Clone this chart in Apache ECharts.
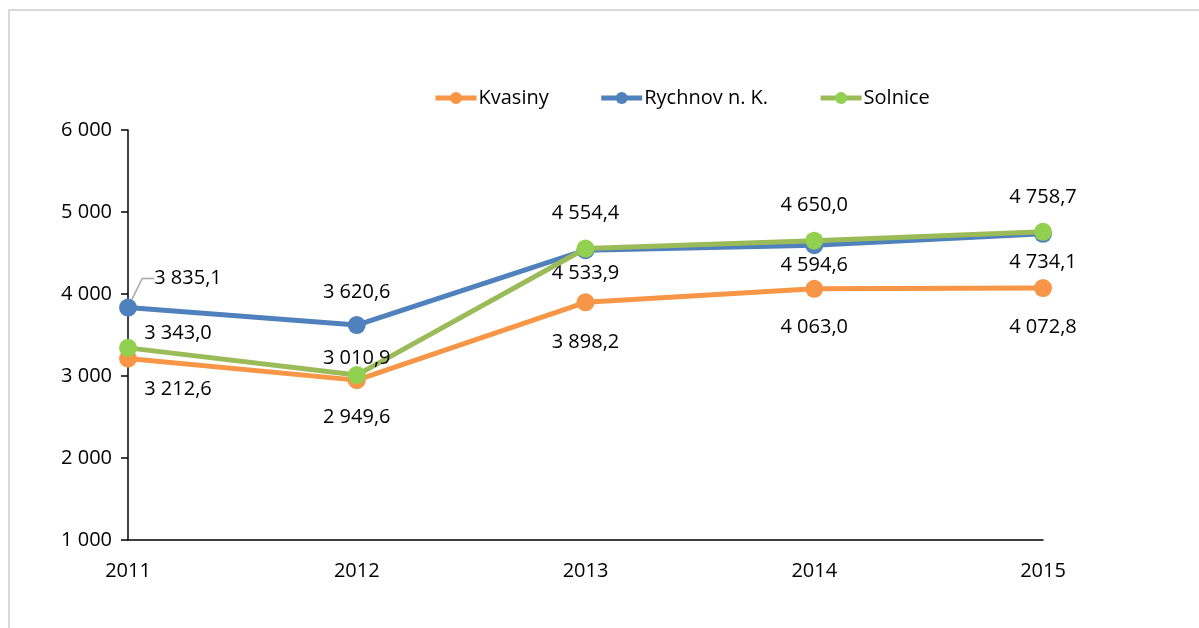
<!DOCTYPE html>
<html>
<head>
<meta charset="utf-8">
<script src="https://cdn.jsdelivr.net/npm/echarts@6/dist/echarts.min.js"></script>
<style>
  html, body { margin: 0; padding: 0; background: #fff; }
  #chart { width: 1199px; height: 628px; }
</style>
</head>
<body>
<div id="chart"></div>
<script>
var years = ['2011', '2012', '2013', '2014', '2015'];
var kvasiny = [3212.6, 2949.6, 3898.2, 4063.0, 4072.8];
var rychnov = [3835.1, 3620.6, 4533.9, 4594.6, 4734.1];
var solnice = [3343.0, 3010.9, 4554.4, 4650.0, 4758.7];
var yTicks = [1000, 2000, 3000, 4000, 5000, 6000];

// label offsets from each point (px), kept apart from the values
var kvasinyOffsets = [[50, 31], [0, 37], [0, 40], [0, 38], [0, 39]];
var rychnovOffsets = [[60, -29], [0, -33], [0, 23], [0, 20], [0, 28]];
var solniceOffsets = [[50, -15], [0, -17], [0, -35], [0, -35], [0, -34]];

var FONT = '"Open Sans", sans-serif';
var FS = 20;

function fmt(v, digits) {
    var s = v.toFixed(digits).replace('.', ',');
    var parts = s.split(',');
    parts[0] = parts[0].replace(/\B(?=(\d{3})+(?!\d))/g, ' ');
    return parts.join(',');
}

function buildSeries(name, values, offsets, lineColor, dotColor, z) {
    return {
        name: name,
        type: 'line',
        z: z,
        data: values.map(function(v) { return { value: v }; }),
        symbol: 'circle',
        symbolSize: 18,
        lineStyle: { color: lineColor, width: 5 },
        itemStyle: { color: dotColor },
        label: {
            show: true,
            position: 'inside',
            color: '#000',
            fontFamily: FONT,
            fontSize: FS,
            formatter: function(p) { return fmt(p.value, 1); }
        },
        // move each label from the point by its offset
        labelLayout: function(p) {
            var o = offsets[p.dataIndex];
            return { dx: o[0], dy: o[1] };
        },
        emphasis: { disabled: true },
        animation: false
    };
}

var series = [
    buildSeries('Kvasiny', kvasiny, kvasinyOffsets, '#F79646', '#F79646', 2),
    buildSeries('Rychnov n. K.', rychnov, rychnovOffsets, '#4F81BD', '#4F81BD', 3),
    buildSeries('Solnice', solnice, solniceOffsets, '#9BBB59', '#92D050', 4)
];

// leader line for the 2011 Rychnov label
series[1].data[0].labelLine = {
    show: true,
    length2: 12,
    lineStyle: { color: '#a6a6a6', width: 1.5 }
};

var option = {
    backgroundColor: '#fff',
    animation: false,
    textStyle: { fontFamily: FONT },
    graphic: [{
        type: 'rect',
        shape: { x: 9, y: 10, width: 1200, height: 630 },
        style: { fill: 'none', stroke: '#d9d9d9', lineWidth: 2 },
        silent: true
    }],
    legend: {
        top: 83,
        left: 428,
        itemWidth: 41,
        itemHeight: 15,
        itemGap: 50,
        lineStyle: { width: 5 },
        textStyle: { fontFamily: FONT, fontSize: FS, color: '#000', padding: [0, 0, 0, -3] },
        data: ['Kvasiny', 'Rychnov n. K.', 'Solnice']
    },
    grid: { left: 128, right: 156, top: 130, bottom: 88, containLabel: false },
    xAxis: {
        type: 'category',
        data: years,
        boundaryGap: false,
        axisLine: { lineStyle: { color: '#000', width: 1.5 } },
        axisTick: { show: false },
        axisLabel: { color: '#000', fontFamily: FONT, fontSize: FS, margin: 21 }
    },
    yAxis: {
        type: 'value',
        min: yTicks[0],
        max: yTicks[yTicks.length - 1],
        interval: 1000,
        axisLine: { show: true, lineStyle: { color: '#000', width: 1.5 } },
        axisTick: { show: true, length: 7, lineStyle: { color: '#000', width: 1.5 } },
        splitLine: { show: false },
        axisLabel: {
            color: '#000', fontFamily: FONT, fontSize: FS, margin: 16,
            formatter: function(v) { return fmt(v, 0); }
        }
    },
    series: series
};

var myChart = echarts.init(document.getElementById('chart'));
myChart.setOption(option);
</script>
</body>
</html>
